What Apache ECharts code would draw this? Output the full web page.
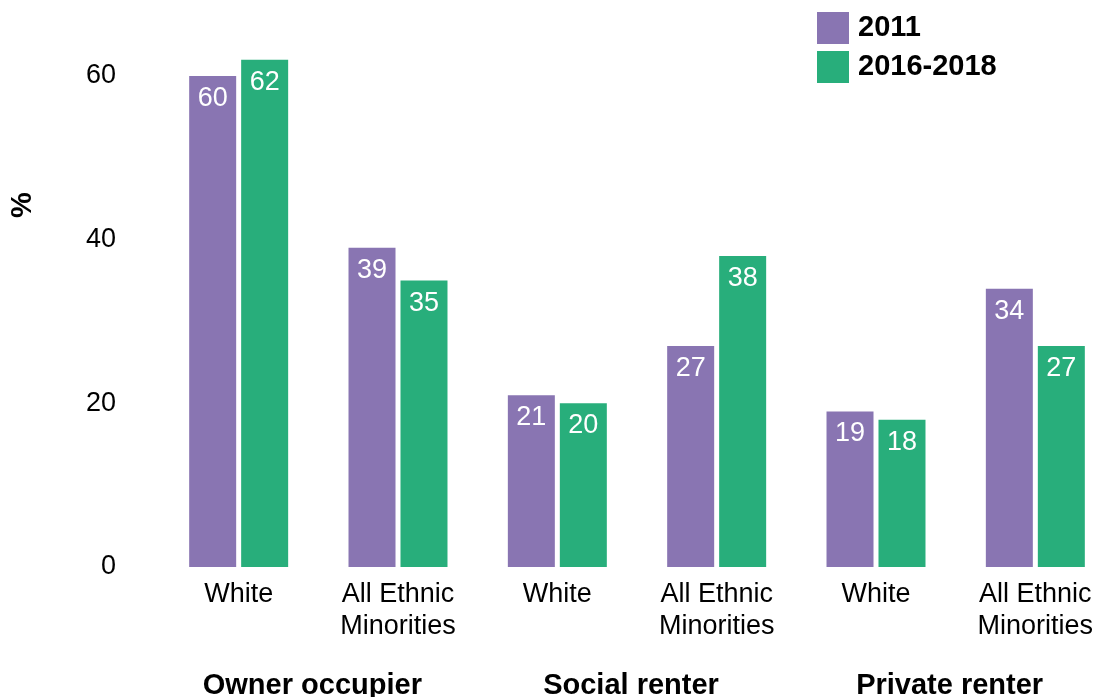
<!DOCTYPE html>
<html><head><meta charset="utf-8">
<script src="https://cdn.jsdelivr.net/npm/echarts@6/dist/echarts.min.js"></script>
<style>html,body{margin:0;padding:0;background:#fff}#c{width:1099px;height:697px}</style>
</head><body><div id="c"></div>
<script>
const categories = ['White', 'All Ethnic\nMinorities', 'White', 'All Ethnic\nMinorities', 'White', 'All Ethnic\nMinorities'];
const groups = ['Owner occupier', 'Social renter', 'Private renter'];
const seriesNames = ['2011', '2016-2018'];
const values2011 = [60, 39, 21, 27, 19, 34];
const values2016 = [62, 35, 20, 38, 18, 27];
const yTicks = [0, 20, 40, 60];

const FONT = 'Liberation Sans, Arial, sans-serif';
const chart = echarts.init(document.getElementById('c'));
const labelCfg = {show: true, position: 'insideTop', distance: 9, color: '#fff', fontSize: 27, fontFamily: FONT};
chart.setOption({
  animation: false,
  textStyle: {fontFamily: FONT},
  legend: {
    orient: 'vertical', left: 817, top: 12, padding: 0, itemWidth: 32, itemHeight: 32, itemGap: 7,
    icon: 'rect', data: seriesNames,
    textStyle: {fontSize: 29, fontWeight: 'bold', color: '#000', fontFamily: FONT, padding: [0, 0, 0, 4]}
  },
  grid: {left: 159, width: 956, top: 76, bottom: 130, containLabel: false, outerBoundsMode: 'none'},
  xAxis: [{
    type: 'category', data: categories,
    axisLine: {show: false}, axisTick: {show: false},
    axisLabel: {margin: 12, fontSize: 27, color: '#000', lineHeight: 32, fontFamily: FONT, interval: 0}
  }, {
    type: 'category', data: groups, position: 'bottom',
    axisLine: {show: false}, axisTick: {show: false}, splitLine: {show: false},
    axisLabel: {margin: 104, fontSize: 29, fontWeight: 'bold', color: '#000', fontFamily: FONT, interval: 0, padding: [0, 12, 0, 0]}
  }],
  yAxis: {
    type: 'value', min: 0, max: yTicks[yTicks.length - 1], interval: 20,
    axisLine: {show: false}, axisTick: {show: false}, splitLine: {show: false},
    axisLabel: {margin: 43, fontSize: 27, color: '#000', fontFamily: FONT}
  },
  graphic: [{
    type: 'text', x: 23, y: 205, rotation: Math.PI / 2,
    style: {text: '%', font: 'bold 29px ' + FONT, fill: '#000', textAlign: 'center', textVerticalAlign: 'middle'}
  }],
  series: [{
    name: seriesNames[0], type: 'bar', data: values2011, clip: false,
    barWidth: 47, barGap: '10.6%',
    itemStyle: {color: '#8975B2'}, label: labelCfg
  }, {
    name: seriesNames[1], type: 'bar', data: values2016, clip: false,
    barWidth: 47, barGap: '10.6%',
    itemStyle: {color: '#28AE7B'}, label: labelCfg
  }]
});
</script></body></html>
